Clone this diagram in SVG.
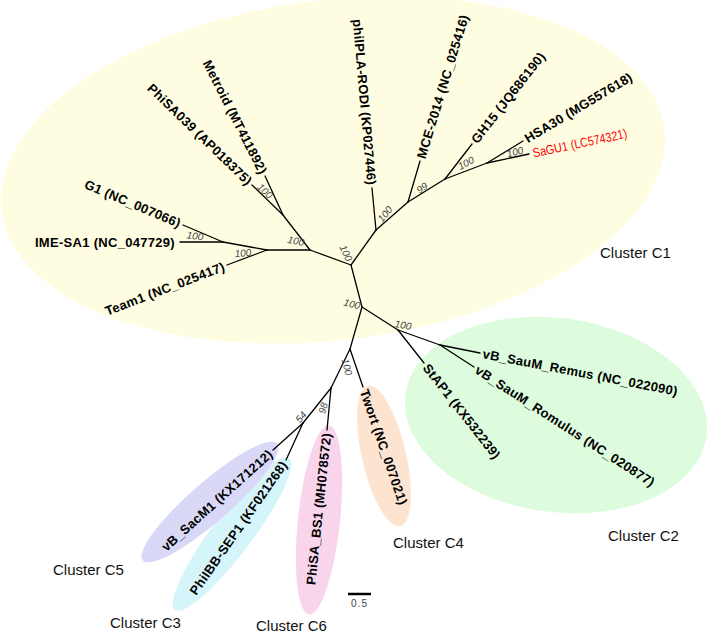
<svg xmlns="http://www.w3.org/2000/svg" width="709" height="636" viewBox="0 0 709 636">
<style>
.tip{font-family:"Liberation Sans",Arial,sans-serif;font-size:13px;font-weight:bold;letter-spacing:0.3px;fill:#000}
.red{font-family:"Liberation Sans",Arial,sans-serif;font-size:13px;fill:#ff0000}
.bs{font-family:"Liberation Sans",Arial,sans-serif;font-size:10px;font-style:italic;fill:#444;text-anchor:middle}
.cl{font-family:"Liberation Sans",Arial,sans-serif;font-size:15px;fill:#111}
.br line{stroke:#000;stroke-width:1.3;stroke-linecap:round}
</style>
<rect width="709" height="636" fill="#fff"/>
<g id="clusters">
<ellipse id="c1-area" cx="333" cy="170" rx="334" ry="170" transform="rotate(-7 333 170)" fill="#fefde1"/>
<ellipse id="c2-area" cx="556" cy="415" rx="152" ry="97" transform="rotate(8 556 415)" fill="#ddfbdd"/>
<ellipse id="c4-area" cx="384" cy="456" rx="22" ry="72" transform="rotate(-13 384 456)" fill="#fce4d0"/>
<ellipse id="c6-area" cx="319" cy="520" rx="21" ry="95" transform="rotate(6 319 520)" fill="#f9d5ec"/>
<ellipse id="c3-area" cx="232" cy="534" rx="20" ry="95" transform="rotate(37 232 534)" fill="#d6f5fb"/>
<ellipse id="c5-area" cx="210" cy="502" rx="20" ry="89" transform="rotate(49 210 502)" fill="#d9d9f7"/>
</g>
<g id="connectors" class="br">
<line x1="283" y1="215" x2="265" y2="176"/>
<line x1="283" y1="215" x2="252" y2="185"/>
<line x1="283" y1="215" x2="310" y2="250"/>
<line x1="267" y1="250" x2="310" y2="250"/>
<line x1="223" y1="242" x2="267" y2="250"/>
<line x1="223" y1="242" x2="183" y2="225"/>
<line x1="223" y1="242" x2="180" y2="242"/>
<line x1="267" y1="250" x2="227" y2="265"/>
<line x1="310" y1="250" x2="351" y2="265"/>
<line x1="351" y1="265" x2="376" y2="230"/>
<line x1="376" y1="230" x2="372" y2="188"/>
<line x1="376" y1="230" x2="408" y2="202"/>
<line x1="408" y1="202" x2="420" y2="161"/>
<line x1="408" y1="202" x2="445" y2="179"/>
<line x1="445" y1="179" x2="472" y2="144"/>
<line x1="445" y1="179" x2="487" y2="163"/>
<line x1="487" y1="163" x2="523" y2="141"/>
<line x1="487" y1="163" x2="529" y2="154"/>
<line x1="351" y1="265" x2="362" y2="307"/>
<line x1="362" y1="307" x2="398" y2="330"/>
<line x1="398" y1="330" x2="424" y2="363"/>
<line x1="398" y1="330" x2="440" y2="345"/>
<line x1="440" y1="345" x2="480" y2="353"/>
<line x1="440" y1="345" x2="474" y2="367"/>
<line x1="362" y1="307" x2="350" y2="349"/>
<line x1="350" y1="349" x2="363" y2="387"/>
<line x1="350" y1="349" x2="331" y2="388"/>
<line x1="331" y1="388" x2="327" y2="430"/>
<line x1="331" y1="388" x2="303" y2="423"/>
<line x1="303" y1="423" x2="273" y2="450"/>
<line x1="303" y1="423" x2="286" y2="460"/>
</g>
<g id="bootstrap">
<text class="bs" transform="translate(265,191) rotate(43)" dy="3.5">100</text>
<text class="bs" transform="translate(195,236) rotate(8)" dy="3.5">100</text>
<text class="bs" transform="translate(243,253) rotate(-5)" dy="3.5">100</text>
<text class="bs" transform="translate(296,241) rotate(12)" dy="3.5">100</text>
<text class="bs" transform="translate(346,253) rotate(65)" dy="3.5">100</text>
<text class="bs" transform="translate(385,214) rotate(-50)" dy="3.5">100</text>
<text class="bs" transform="translate(422,188) rotate(-35)" dy="3.5">99</text>
<text class="bs" transform="translate(466,163) rotate(-27)" dy="3.5">100</text>
<text class="bs" transform="translate(515,152) rotate(-15)" dy="3.5">100</text>
<text class="bs" transform="translate(352,304) rotate(15)" dy="3.5">100</text>
<text class="bs" transform="translate(403,325) rotate(10)" dy="3.5">100</text>
<text class="bs" transform="translate(347,367) rotate(75)" dy="3.5">100</text>
<text class="bs" transform="translate(323,408) rotate(-75)" dy="3.5">98</text>
<text class="bs" transform="translate(301,417) rotate(-50)" dy="3.5">54</text>
</g>
<g id="metroid" transform="translate(265,176) rotate(63)"><text class="tip" x="-3" y="4.5" text-anchor="end">Metroid (MT411892)</text></g>
<g id="phisa039" transform="translate(252,185) rotate(44)"><text class="tip" x="-3" y="4.5" text-anchor="end">PhiSA039 (AP018375)</text></g>
<g id="g1" transform="translate(183,225) rotate(23)"><text class="tip" x="-3" y="4.5" text-anchor="end">G1 (NC_007066)</text></g>
<g id="ime-sa1" transform="translate(180,242)"><text class="tip" x="-5" y="4.5" text-anchor="end">IME-SA1 (NC_047729)</text></g>
<g id="team1" transform="translate(227,265) rotate(-21)"><text class="tip" x="-3" y="4.5" text-anchor="end">Team1 (NC_025417)</text></g>
<g id="philpla" transform="translate(372,188) rotate(85)"><text class="tip" x="-3" y="4.5" text-anchor="end">philPLA-RODI (KP027446)</text></g>
<g id="mce2014" transform="translate(420,161) rotate(-73)"><text class="tip" x="3" y="4.5">MCE-2014 (NC_025416)</text></g>
<g id="gh15" transform="translate(472,144) rotate(-52)"><text class="tip" x="3" y="4.5">GH15 (JQ686190)</text></g>
<g id="hsa30" transform="translate(523,141) rotate(-31)"><text class="tip" x="3" y="4.5">HSA30 (MG557618)</text></g>
<g id="sagu1" transform="translate(529,154) rotate(-12)"><text class="red" x="4" y="4.5" textLength="96" lengthAdjust="spacingAndGlyphs">SaGU1 (LC574321)</text></g>
<g id="remus" transform="translate(480,353) rotate(11)"><text class="tip" x="3" y="4.5">vB_SauM_Remus (NC_022090)</text></g>
<g id="romulus" transform="translate(474,367) rotate(33)"><text class="tip" x="3" y="4.5">vB_SauM_Romulus (NC_020877)</text></g>
<g id="stap1" transform="translate(424,363) rotate(52)"><text class="tip" x="3" y="4.5">StAP1 (KX532239)</text></g>
<g id="twort" transform="translate(363,387) rotate(71)"><text class="tip" x="3" y="4.5">Twort (NC_007021)</text></g>
<g id="phisa-bs1" transform="translate(327,430) rotate(-84)"><text class="tip" x="-3" y="4.5" text-anchor="end">PhiSA_BS1 (MH078572)</text></g>
<g id="phiibb-sep1" transform="translate(286,460) rotate(-55)"><text class="tip" x="-3" y="4.5" text-anchor="end">PhiIBB-SEP1 (KF021268)</text></g>
<g id="vb-sacm1" transform="translate(273,450) rotate(-42)"><text class="tip" x="-3" y="4.5" text-anchor="end">vB_SacM1 (KX171212)</text></g>
<g id="cluster-labels">
<text class="cl" x="600" y="258">Cluster C1</text>
<text class="cl" x="608" y="541">Cluster C2</text>
<text class="cl" x="393" y="548">Cluster C4</text>
<text class="cl" x="53" y="575">Cluster C5</text>
<text class="cl" x="110" y="628">Cluster C3</text>
<text class="cl" x="256" y="631">Cluster C6</text>
</g>
<g id="scale-bar">
<line x1="348" y1="594" x2="371" y2="594" stroke="#000" stroke-width="2.5"/>
<text x="359.5" y="607" font-family="Liberation Sans, Arial, sans-serif" font-size="10" letter-spacing="1" fill="#444" text-anchor="middle">0.5</text>
</g>
</svg>
